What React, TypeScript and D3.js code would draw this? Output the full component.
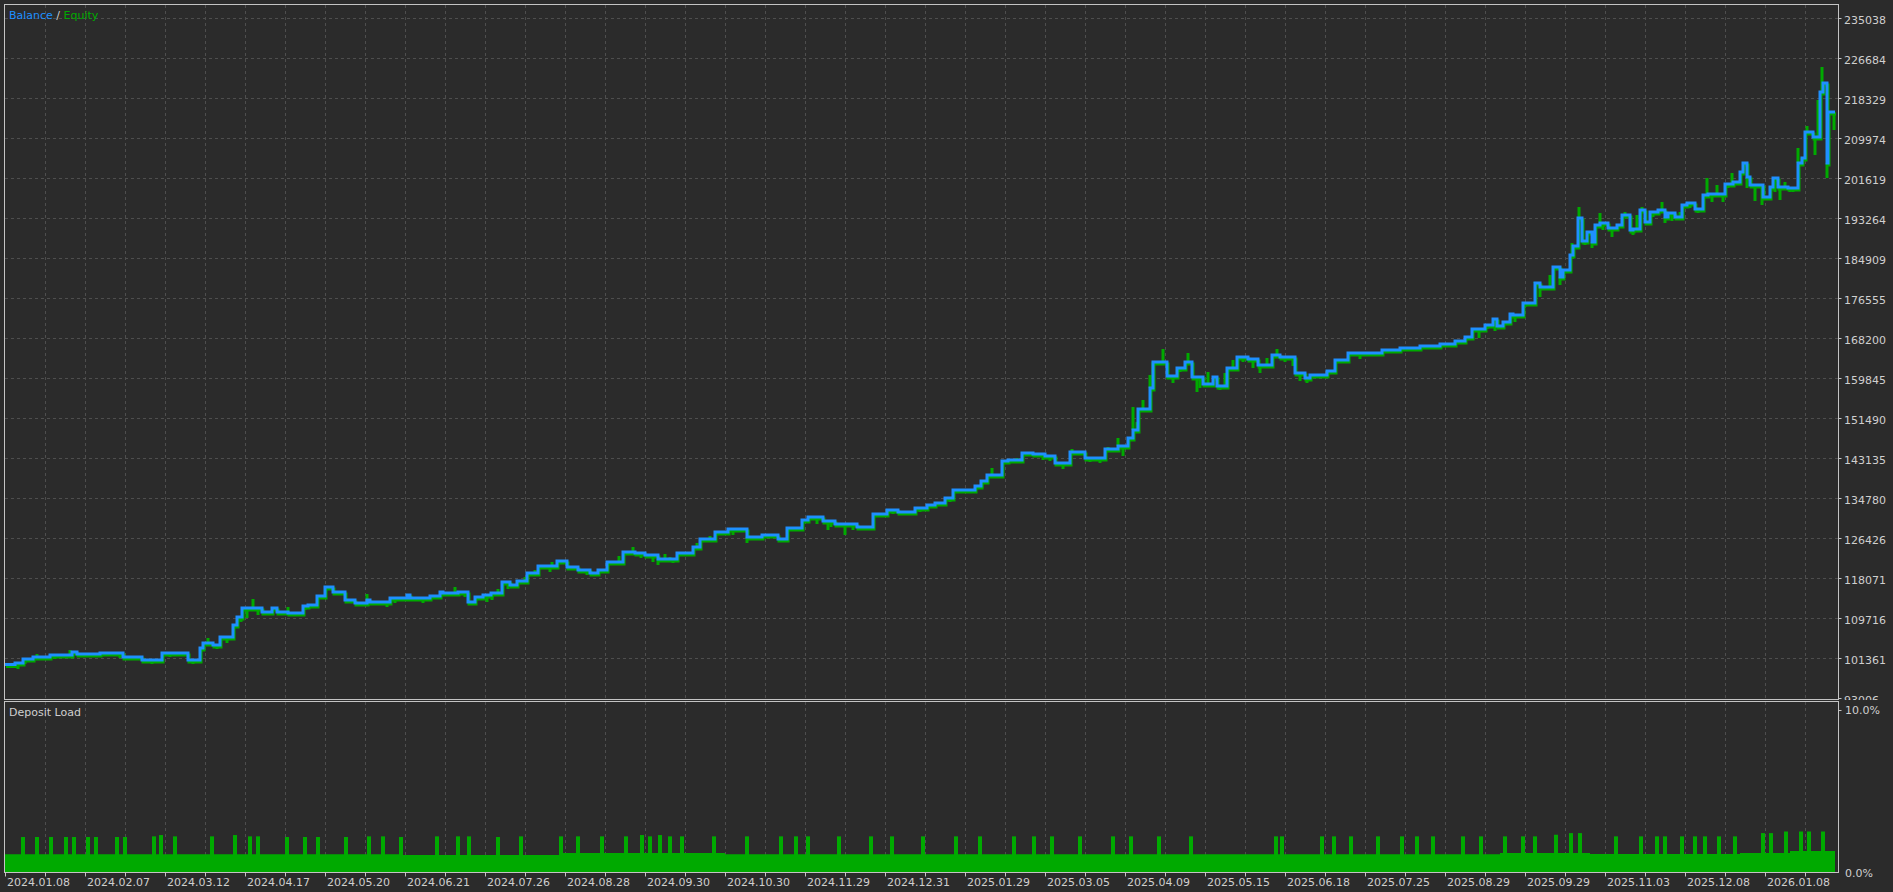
import * as d3 from "d3";

// MT5 style balance / equity report, x axis is deal number
const totalDeals = 1830;
const dealsPerDateLabel = 80;
const dealsPerGrid = 40;

const valueTicks = [
  235038, 226684, 218329, 209974, 201619, 193264, 184909, 176555, 168200,
  159845, 151490, 143135, 134780, 126426, 118071, 109716, 101361, 93006,
];

const dateLabels = [
  "2024.01.08", "2024.02.07", "2024.03.12", "2024.04.17", "2024.05.20",
  "2024.06.21", "2024.07.26", "2024.08.28", "2024.09.30", "2024.10.30",
  "2024.11.29", "2024.12.31", "2025.01.29", "2025.03.05", "2025.04.09",
  "2025.05.15", "2025.06.18", "2025.07.25", "2025.08.29", "2025.09.29",
  "2025.11.03", "2025.12.08", "2026.01.08",
];

// [deal, balance]
const balance: [number, number][] = [
  [0, 100000], [10, 100317], [18, 101153], [28, 101571], [45, 101988], [67, 102615],
  [72, 102197], [95, 102406], [118, 101571], [137, 100944], [157, 102406], [183, 100944],
  [195, 103450], [198, 104495], [208, 104077], [215, 105748], [228, 108254], [232, 109925],
  [237, 111805], [257, 110970], [267, 111805], [272, 110970], [283, 110761], [298, 112223],
  [303, 112431], [312, 114311], [320, 116191], [328, 115147], [340, 113476], [350, 112849],
  [362, 113476], [365, 113058], [385, 113894], [402, 114520], [405, 113894], [425, 114311],
  [435, 115147], [438, 114938], [453, 115147],
  [463, 113058], [470, 114100], [478, 114520], [486, 114938], [497, 117236], [505, 116609],
  [512, 117444], [522, 119115], [533, 120578], [552, 121622], [562, 120369], [573, 119742],
  [585, 119115], [593, 119742], [602, 121413], [618, 123502], [630, 123293], [640, 122875],
  [653, 122040], [672, 123293], [688, 124546], [695, 126217], [710, 127679], [723, 128306],
  [742, 126635], [757, 127053], [773, 126217], [782, 128515], [797, 130186], [803, 130812],
  [818, 129977], [830, 129350], [852, 128723], [868, 131439], [882, 132274], [893, 131857],
  [910, 132692], [922, 133319], [930, 133736], [940, 134781], [948, 136452], [970, 137287],
  [976, 138331], [982, 139585], [997, 142509], [1003, 142718], [1017, 144180], [1028, 143971],
  [1040, 143553], [1050, 142091], [1065, 144389], [1080, 143135], [1100, 145015], [1113, 145642],
  [1123, 147313], [1128, 148984], [1133, 153370], [1145, 157756], [1148, 163187], [1162, 160262],
  [1172, 161934], [1180, 163187], [1187, 160054], [1198, 158592], [1208, 160054], [1212, 158174],
  [1222, 161934], [1232, 164231], [1243, 163814], [1253, 162560], [1267, 164649], [1275, 164231],
  [1290, 160889], [1300, 159845], [1305, 160471], [1322, 161307], [1330, 163605], [1343, 165067],
  [1377, 165694], [1395, 166111], [1415, 166529], [1435, 166947], [1450, 167573], [1460, 168409],
  [1467, 170080], [1480, 170915], [1488, 172169], [1492, 170706], [1498, 171542], [1505, 173213],
  [1508, 173004], [1518, 175510], [1530, 179688], [1535, 178852], [1548, 183029], [1555, 180941],
  [1558, 182403], [1565, 185536], [1568, 187416], [1573, 193264], [1577, 188460], [1582, 190339],
  [1587, 188251], [1590, 191802], [1595, 192219], [1603, 191175], [1612, 191802], [1617, 193890],
  [1625, 190757], [1628, 190966], [1635, 194935], [1640, 192428], [1645, 194517], [1653, 194935],
  [1660, 193472], [1663, 194308], [1670, 193472], [1677, 195979], [1682, 196397], [1690, 195143],
  [1698, 198068], [1703, 198277], [1720, 200366], [1728, 200783], [1735, 202872], [1738, 204752],
  [1742, 201828], [1745, 200157], [1758, 197650], [1765, 199739], [1768, 201619], [1773, 199739],
  [1783, 199530], [1793, 204752], [1797, 205796], [1800, 211227], [1808, 210182], [1815, 219582],
  [1818, 221461], [1822, 204752], [1823, 215404], [1830, 215404],
];

// [deal, equity] where floating equity moved away from balance
const equitySpikes: [number, number][] = [
  [7, 99273], [13, 99064], [20, 100108], [32, 102197], [40, 101153], [50, 101153], [58, 101362],
  [65, 103032], [85, 101780], [100, 101990], [115, 101362], [122, 101153], [130, 101153],
  [147, 100108], [165, 101571], [175, 101990], [188, 100108], [203, 105539], [212, 103241],
  [222, 104495], [236, 108900], [242, 109716], [248, 113685], [253, 110343], [264, 110343],
  [283, 112014], [300, 111388], [335, 114520], [345, 112849], [355, 112223], [362, 114729],
  [372, 112640], [382, 112014], [390, 112849], [397, 113267], [418, 112849], [430, 113685],
  [442, 114311], [450, 116191], [460, 114102], [467, 112849], [475, 113476], [482, 113058],
  [487, 113476], [493, 115773], [500, 117236], [503, 115773], [510, 116400], [520, 118280],
  [530, 119742], [540, 120787], [545, 119324], [547, 121413], [557, 121204], [563, 120160],
  [575, 119115], [582, 118697], [590, 118489], [605, 120996], [614, 122666], [628, 124546],
  [636, 122249], [648, 121413], [653, 120787], [660, 123084], [665, 122458], [668, 121204],
  [680, 122666], [692, 125382], [705, 126843], [716, 127470], [728, 127053], [735, 127679],
  [742, 125382], [750, 126217], [765, 126426], [778, 125800], [786, 127888], [800, 129768],
  [812, 129350], [823, 128097], [826, 128723], [840, 127053], [848, 128097], [860, 128306],
  [875, 130812], [888, 131439], [900, 131230], [915, 131857], [928, 132692], [945, 133945],
  [955, 135825], [965, 136661], [977, 136870], [987, 141047], [992, 139585], [1000, 141882],
  [1012, 143135], [1023, 143553], [1038, 142718], [1045, 142509], [1058, 140838], [1067, 145015],
  [1075, 143971], [1085, 142300], [1095, 142091], [1103, 145433], [1108, 144389], [1113, 147313],
  [1118, 143553], [1128, 153788], [1132, 150655], [1138, 155250], [1145, 160471], [1148, 157965],
  [1153, 162560], [1158, 165903], [1163, 159637], [1168, 158801], [1175, 161098], [1183, 165067],
  [1192, 156919], [1195, 157756], [1203, 161098], [1215, 157338], [1220, 160889], [1228, 163605],
  [1238, 163187], [1248, 161934], [1255, 160889], [1262, 164022], [1272, 165903], [1280, 163187],
  [1288, 162352], [1295, 159218], [1302, 158801], [1310, 159845], [1318, 160680], [1335, 162978],
  [1350, 164440], [1355, 163814], [1365, 164858], [1474, 168200], [1482, 170080], [1490, 169662],
  [1500, 171542], [1510, 171542], [1520, 174675], [1530, 179897], [1535, 176763], [1545, 181359],
  [1555, 179270], [1560, 181777], [1567, 188042], [1574, 195561], [1580, 187624], [1587, 186998],
  [1595, 194308], [1598, 190757], [1607, 189295], [1615, 191384], [1620, 194517], [1628, 189713],
  [1632, 193890], [1637, 195561], [1648, 193472], [1657, 196606], [1660, 192219], [1667, 192637],
  [1675, 194517], [1685, 195352], [1693, 194308], [1702, 201619], [1707, 196606], [1712, 200157],
  [1718, 196606], [1723, 199530], [1727, 202663], [1733, 200575], [1742, 199530], [1750, 196815],
  [1757, 195979], [1770, 198694], [1775, 197024], [1780, 200783], [1785, 198694], [1788, 198694],
  [1793, 207886], [1797, 204125], [1802, 212481], [1810, 206422], [1813, 217911], [1817, 224804],
  [1822, 201619], [1829, 211645],
];

// deposit load, % : resting level and short peaks
const loadBase: [number, number][] = [
  [0, 1.1], [395, 1.05], [555, 1.17], [720, 1.1], [1495, 1.17], [1585, 1.11],
  [1735, 1.17], [1785, 1.3], [1830, 1.3],
];

const loadSpikes: [number, number][] = [
  [16, 2.16], [30, 2.16], [44, 2.16], [59, 2.16], [67, 2.16], [81, 2.16], [89, 2.16],
  [110, 2.16], [118, 2.16], [147, 2.2], [154, 2.28], [168, 2.2], [205, 2.2], [228, 2.28],
  [243, 2.2], [251, 2.2], [280, 2.16], [298, 2.16], [311, 2.16], [339, 2.16], [362, 2.2],
  [376, 2.2], [394, 2.16], [430, 2.2], [451, 2.2], [462, 2.2], [491, 2.16], [514, 2.2],
  [554, 2.2], [571, 2.2], [595, 2.2], [619, 2.2], [635, 2.28], [643, 2.2], [653, 2.28],
  [663, 2.2], [675, 2.2], [707, 2.2], [740, 2.2], [774, 2.2], [789, 2.2], [801, 2.2],
  [832, 2.2], [864, 2.2], [885, 2.2], [916, 2.2], [949, 2.2], [973, 2.2], [1007, 2.2],
  [1027, 2.2], [1045, 2.2], [1073, 2.2], [1106, 2.2], [1124, 2.2], [1152, 2.2], [1184, 2.2],
  [1269, 2.2], [1275, 2.2], [1315, 2.2], [1327, 2.2], [1344, 2.2], [1371, 2.2], [1395, 2.2],
  [1410, 2.2], [1426, 2.2], [1456, 2.2], [1474, 2.2],
  [1498, 2.2], [1516, 2.2], [1528, 2.2], [1549, 2.3], [1564, 2.4], [1573, 2.4], [1609, 2.2],
  [1634, 2.2], [1650, 2.2], [1658, 2.2], [1675, 2.2], [1688, 2.2], [1698, 2.2], [1712, 2.2],
  [1728, 2.2], [1756, 2.4], [1764, 2.4], [1779, 2.5], [1794, 2.5], [1802, 2.5], [1816, 2.5],
];

const BG = "#2b2b2b";
const FRAME = "#c4c4c4";
const TEXT = "#cfcfcf";
const GRID = "#4e4e4e";
const BLUE = "#1e90ff";
const GREEN = "#00aa00";
const FONT = "DejaVu Sans";

export default function App() {
  const W = 1893;
  const H = 892;
  const left = 4.5;
  const right = 1838.5;
  const mainTop = 4.5;
  const mainBottom = 699.5;
  const subTop = 701.5;
  const subBottom = 872.5;

  const x = d3.scaleLinear().domain([0, totalDeals]).range([5, 1835]);
  const y = d3.scaleLinear().domain([93006, 235038]).range([698, 18]);
  const yLoad = d3.scaleLinear().domain([0, 10]).range([872, 710]);

  const stepLine = d3
    .line<[number, number]>()
    .x((d) => x(d[0]))
    .y((d) => y(d[1]))
    .curve(d3.curveStepAfter);

  const bis = d3.bisector((d: [number, number]) => d[0]).right;
  const balanceAt = (deal: number) => balance[Math.max(0, bis(balance, deal) - 1)][1];

  const loadArea = d3
    .area<[number, number]>()
    .x((d) => x(d[0]))
    .y0(yLoad(0))
    .y1((d) => yLoad(d[1]))
    .curve(d3.curveStepAfter);

  const gridDeals = d3.range(dealsPerGrid, totalDeals - 20, dealsPerGrid);

  return (
    <div>
      <style>{"body{margin:0;background:" + BG + "}"}</style>
      <svg width={W} height={H} style={{ display: "block", background: BG }}>
        <defs>
          <clipPath id="mainClip">
            <rect x={0} y={0} width={W} height={mainBottom + 0.5} />
          </clipPath>
        </defs>

        {/* grid */}
        <g stroke={GRID} strokeDasharray="3 3" shapeRendering="crispEdges">
          {valueTicks.slice(0, -1).map((v) => (
            <line key={v} x1={left} x2={right} y1={Math.round(y(v)) + 0.5} y2={Math.round(y(v)) + 0.5} />
          ))}
          {gridDeals.map((d) => (
            <line key={"m" + d} x1={Math.round(x(d)) + 0.5} x2={Math.round(x(d)) + 0.5} y1={mainTop} y2={mainBottom} />
          ))}
          {gridDeals.map((d) => (
            <line key={"s" + d} x1={Math.round(x(d)) + 0.5} x2={Math.round(x(d)) + 0.5} y1={subTop} y2={subBottom} />
          ))}
        </g>

        {/* equity */}
        <path d={stepLine(balance) ?? ""} fill="none" stroke={GREEN} strokeWidth={3} transform="translate(1,2)" />
        <g stroke={GREEN} strokeWidth={3}>
          {equitySpikes.map(([d, v], i) => (
            <line key={i} x1={x(d)} x2={x(d)} y1={y(balanceAt(d))} y2={y(v)} />
          ))}
        </g>
        {/* balance */}
        <path d={stepLine(balance) ?? ""} fill="none" stroke={BLUE} strokeWidth={3} />

        {/* deposit load */}
        <path d={loadArea(loadBase) ?? ""} fill={GREEN} />
        {loadSpikes.map(([d, p], i) => (
          <rect key={i} x={x(d)} y={yLoad(p)} width={x(d + 4) - x(d)} height={yLoad(0) - yLoad(p)} fill={GREEN} />
        ))}

        {/* frames */}
        <g fill="none" stroke={FRAME} shapeRendering="crispEdges">
          <rect x={left} y={mainTop} width={right - left} height={mainBottom - mainTop} />
          <rect x={left} y={subTop} width={right - left} height={subBottom - subTop} />
        </g>

        {/* value axis */}
        <g clipPath="url(#mainClip)" fontFamily={FONT} fontSize={11} fill={TEXT}>
          {valueTicks.map((v) => (
            <g key={v}>
              <line x1={right} x2={right + 3} y1={Math.round(y(v)) + 0.5} y2={Math.round(y(v)) + 0.5} stroke={FRAME} />
              <text x={1844} y={Math.round(y(v)) + 6}>{v}</text>
            </g>
          ))}
        </g>
        <g fontFamily={FONT} fontSize={11} fill={TEXT}>
          <line x1={right} x2={right + 3} y1={yLoad(10) + 0.5} y2={yLoad(10) + 0.5} stroke={FRAME} />
          <text x={1845} y={yLoad(10) + 4}>10.0%</text>
          <text x={1845} y={yLoad(0) + 5}>0.0%</text>
        </g>

        {/* date axis */}
        <g fontFamily={FONT} fontSize={11} fill={TEXT}>
          {d3.range(0, totalDeals, dealsPerGrid).map((d) => (
            <line key={d} x1={Math.round(x(d)) + 0.5} x2={Math.round(x(d)) + 0.5} y1={subBottom} y2={subBottom + 4} stroke={FRAME} />
          ))}
          {dateLabels.map((s, i) => (
            <text key={s} x={x(i * dealsPerDateLabel) + 2} y={886}>{s}</text>
          ))}
        </g>

        {/* labels */}
        <text x={9} y={19} fontFamily={FONT} fontSize={11}>
          <tspan fill={BLUE}>Balance</tspan>
          <tspan fill={TEXT}> / </tspan>
          <tspan fill={GREEN}>Equity</tspan>
        </text>
        <text x={9} y={716} fontFamily={FONT} fontSize={11} fill={TEXT}>Deposit Load</text>
      </svg>
    </div>
  );
}
